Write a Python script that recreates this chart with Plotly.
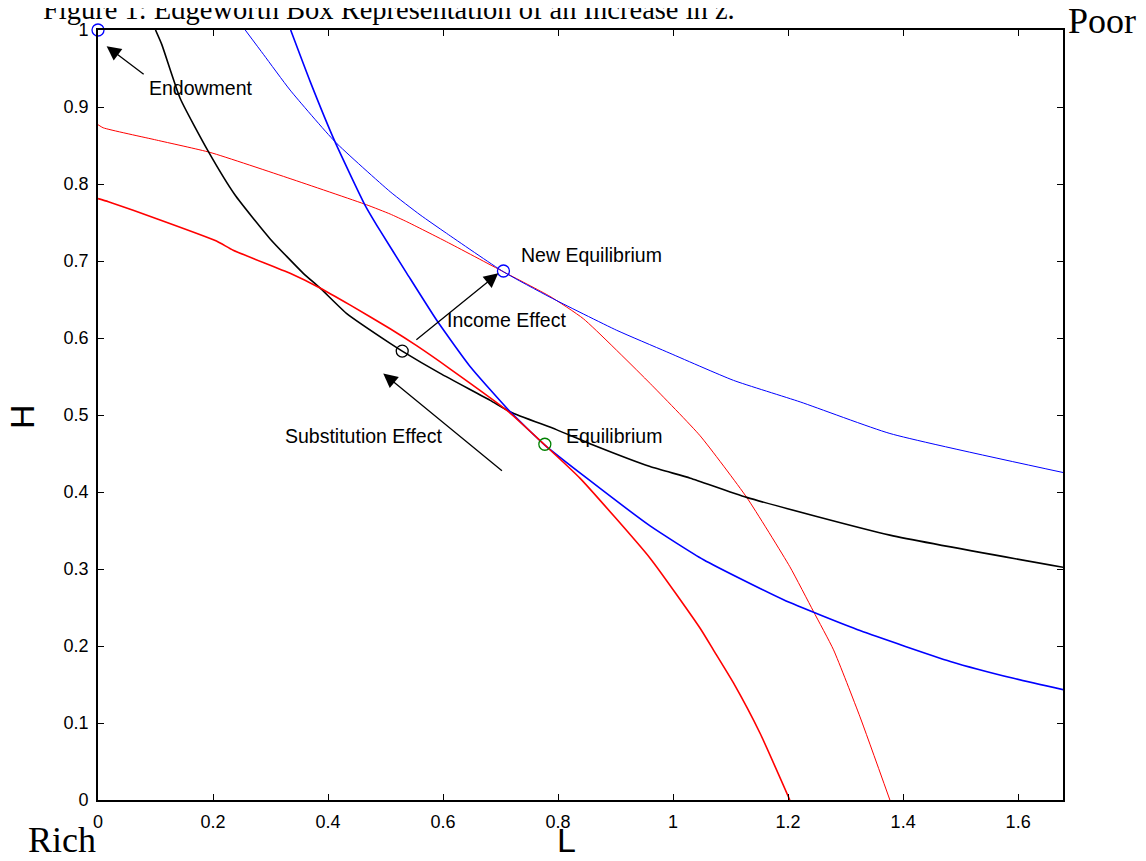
import plotly.graph_objects as go

# Rich's indifference curve through the substitution point (black)
black_L = [0.100, 0.111, 0.143, 0.192, 0.238, 0.299, 0.357, 0.386, 0.432, 0.508, 0.529,
           0.595, 0.682, 0.717, 0.797, 0.861, 0.960, 1.030, 1.128, 1.377, 1.680]
black_H = [1.000, 0.981, 0.911, 0.842, 0.786, 0.729, 0.684, 0.665, 0.632, 0.593, 0.583,
           0.554, 0.519, 0.504, 0.481, 0.461, 0.433, 0.418, 0.393, 0.344, 0.302]

# Poor's indifference curve (red solid, original)
red_L = [0.000, 0.018, 0.102, 0.206, 0.235, 0.334, 0.386, 0.438, 0.508, 0.554, 0.612,
         0.711, 0.777, 0.838, 0.960, 1.047, 1.070, 1.105, 1.151, 1.203]
red_H = [0.781, 0.777, 0.755, 0.726, 0.714, 0.684, 0.665, 0.643, 0.612, 0.590, 0.560,
         0.506, 0.461, 0.418, 0.314, 0.223, 0.195, 0.152, 0.087, 0.000]

# Poor's indifference curve after increase (red thin)
red2_L = [0.000, 0.009, 0.102, 0.195, 0.334, 0.467, 0.508, 0.537, 0.606, 0.705, 0.786,
          0.844, 0.960, 1.047, 1.128, 1.203, 1.244, 1.279, 1.325, 1.377]
red2_H = [0.877, 0.873, 0.857, 0.841, 0.807, 0.773, 0.761, 0.751, 0.725, 0.686, 0.654,
          0.625, 0.541, 0.473, 0.393, 0.303, 0.245, 0.195, 0.108, 0.000]

# Rich's indifference curve (blue solid, original)
blue_L = [0.335, 0.369, 0.412, 0.464, 0.490, 0.537, 0.589, 0.647, 0.717, 0.777, 0.850,
          0.960, 1.053, 1.192, 1.325, 1.482, 1.592, 1.680]
blue_H = [1.000, 0.933, 0.855, 0.773, 0.740, 0.684, 0.623, 0.563, 0.504, 0.461, 0.418,
          0.356, 0.312, 0.260, 0.220, 0.180, 0.158, 0.143]

# Rich's indifference curve after increase (blue thin)
blue2_L = [0.256, 0.288, 0.334, 0.412, 0.508, 0.560, 0.606, 0.705, 0.786, 0.902, 0.989,
           1.105, 1.221, 1.377, 1.680]
blue2_H = [1.000, 0.968, 0.922, 0.855, 0.790, 0.760, 0.736, 0.686, 0.653, 0.610, 0.582,
           0.545, 0.517, 0.476, 0.425]

# Key points
endow = (0.0, 1.0)
sub_pt = (0.529, 0.583)
new_eq = (0.705, 0.687)
eq = (0.777, 0.462)

x_ticks = [0, 0.2, 0.4, 0.6, 0.8, 1, 1.2, 1.4, 1.6]
x_tick_text = ["0", "0.2", "0.4", "0.6", "0.8", "1", "1.2", "1.4", "1.6"]
y_ticks = [0, 0.1, 0.2, 0.3, 0.4, 0.5, 0.6, 0.7, 0.8, 0.9, 1]
y_tick_text = ["0", "0.1", "0.2", "0.3", "0.4", "0.5", "0.6", "0.7", "0.8", "0.9", "1"]

# Figure geometry (the page adds an 8px body margin)
W, Hh = 1138, 853
ML, MT, MR, MB = 90, 22, 83, 61
PW = W - ML - MR
PH = Hh - MT - MB


def page_to_paper(px, py):
    fx, fy = px - 8, py - 8
    return (fx - ML) / PW, (Hh - MB - fy) / PH


fig = go.Figure()
curve_line = dict(shape="spline", smoothing=0.5)
fig.add_trace(go.Scatter(x=red2_L, y=red2_H, mode="lines", line=dict(color="#ff0000", width=1, **curve_line)))
fig.add_trace(go.Scatter(x=blue2_L, y=blue2_H, mode="lines", line=dict(color="#0000ff", width=1, **curve_line)))
fig.add_trace(go.Scatter(x=black_L, y=black_H, mode="lines", line=dict(color="#000000", width=1.6, **curve_line)))
fig.add_trace(go.Scatter(x=blue_L, y=blue_H, mode="lines", line=dict(color="#0000ff", width=1.6, **curve_line)))
fig.add_trace(go.Scatter(x=red_L, y=red_H, mode="lines", line=dict(color="#ff0000", width=1.6, **curve_line)))

for pt, col in [(endow, "#0000ff"), (sub_pt, "#000000"), (new_eq, "#0000ff"), (eq, "#008000")]:
    fig.add_trace(go.Scatter(x=[pt[0]], y=[pt[1]], mode="markers", cliponaxis=False,
                             marker=dict(symbol="circle-open", size=12, color=col,
                                         line=dict(width=1.3, color=col))))

sans = "Liberation Sans, Arial, Helvetica"
lab = dict(family=sans, size=19.5, color="black")
serif = "Liberation Serif, Times New Roman"

annotations = []
arrow_style = dict(xref="x", yref="y", axref="x", ayref="y", text="", showarrow=True,
                   arrowhead=2, arrowsize=2.2, arrowwidth=1.3, arrowcolor="black")
annotations.append(dict(x=0.015, y=0.979, ax=0.082, ay=0.941, **arrow_style))
annotations.append(dict(x=0.696, y=0.684, ax=0.551, ay=0.596, **arrow_style))
annotations.append(dict(x=0.496, y=0.554, ax=0.705, ay=0.426, **arrow_style))

for txt, x, y in [("Endowment", 0.085, 0.925), ("Income Effect", 0.604, 0.624),
                  ("Substitution Effect", 0.322, 0.473), ("New Equilibrium", 0.732, 0.708),
                  ("Equilibrium", 0.810, 0.473)]:
    annotations.append(dict(x=x, y=y, xref="x", yref="y", text=txt, showarrow=False,
                            xanchor="left", yanchor="middle", font=lab))

tx, ty = page_to_paper(41, 10)
annotations.append(dict(x=tx, y=ty, xref="paper", yref="paper",
                        text="Figure 1: Edgeworth Box Representation of an Increase in z.",
                        showarrow=False, xanchor="left", yanchor="middle",
                        font=dict(family=serif, size=28.5, color="black")))
px_, py_ = page_to_paper(1066, 21)
annotations.append(dict(x=px_, y=py_, xref="paper", yref="paper", text="Poor", showarrow=False,
                        xanchor="left", yanchor="middle", font=dict(family=serif, size=36, color="black")))
rx, ry = page_to_paper(26, 840)
annotations.append(dict(x=rx, y=ry, xref="paper", yref="paper", text="Rich", showarrow=False,
                        xanchor="left", yanchor="middle", font=dict(family=serif, size=36, color="black")))
lx, ly = page_to_paper(566, 840)
annotations.append(dict(x=lx, y=ly, xref="paper", yref="paper", text="L", showarrow=False,
                        xanchor="center", yanchor="middle", font=dict(family=sans, size=34, color="black")))
hx, hy = page_to_paper(22, 417)
annotations.append(dict(x=hx, y=hy, xref="paper", yref="paper", text="H", showarrow=False,
                        textangle=-90, xanchor="center", yanchor="middle",
                        font=dict(family=sans, size=34, color="black")))

fig.update_layout(
    width=W, height=Hh,
    margin=dict(l=ML, r=MR, t=MT, b=MB),
    paper_bgcolor="white", plot_bgcolor="white",
    showlegend=False,
    annotations=annotations,
    xaxis=dict(range=[0, 1.678], tickvals=x_ticks, ticktext=x_tick_text, ticks="inside", ticklen=6,
               tickwidth=1.2, tickcolor="black", showline=True, linecolor="black", linewidth=1.8,
               mirror="ticks", showgrid=False, zeroline=False, ticklabelstandoff=4,
               tickfont=dict(family=sans, size=18, color="black")),
    yaxis=dict(range=[0, 1], tickvals=y_ticks, ticktext=y_tick_text, ticks="inside", ticklen=6,
               tickwidth=1.2, tickcolor="black", showline=True, linecolor="black", linewidth=1.8,
               mirror="ticks", showgrid=False, zeroline=False, ticklabelstandoff=4,
               tickfont=dict(family=sans, size=18, color="black")),
)

fig.write_html("out.html")
